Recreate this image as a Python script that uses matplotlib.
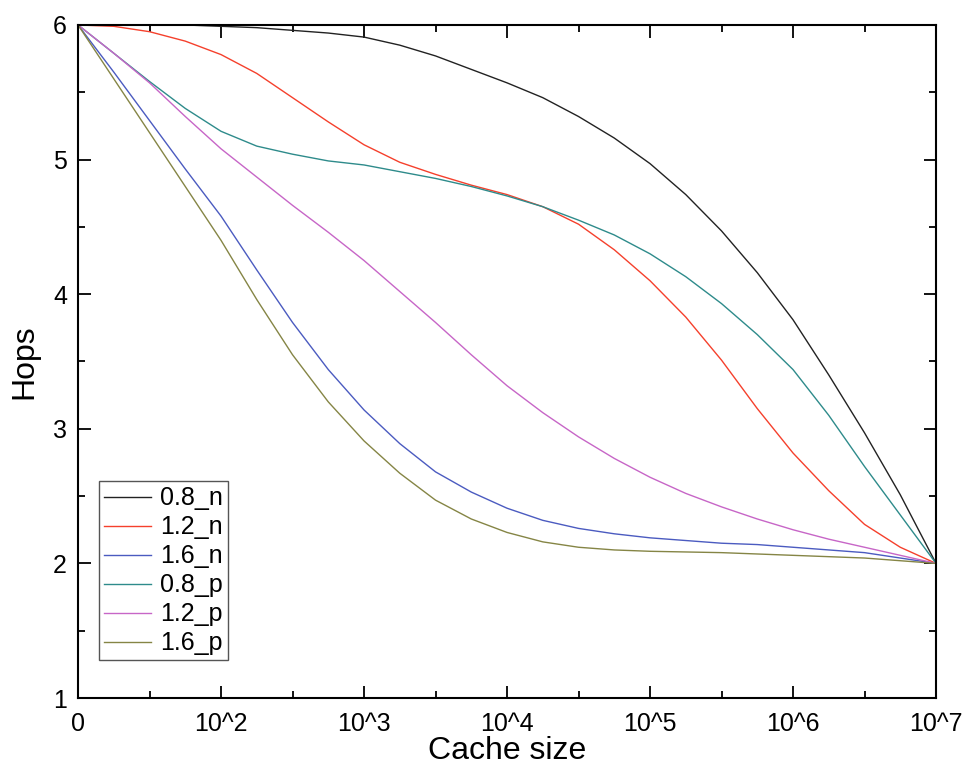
import matplotlib
matplotlib.use("Agg")
import matplotlib.pyplot as plt
from matplotlib.ticker import FixedLocator

# x positions in decades: 1 is labelled "0", 2 is 10^2 ... 7 is 10^7
x = [1.0, 1.25, 1.5, 1.75, 2.0, 2.25, 2.5, 2.75, 3.0, 3.25, 3.5, 3.75, 4.0,
     4.25, 4.5, 4.75, 5.0, 5.25, 5.5, 5.75, 6.0, 6.25, 6.5, 6.75, 7.0]

hops_08_n = [6.00, 6.00, 6.00, 6.00, 5.99, 5.98, 5.96, 5.94, 5.91, 5.85, 5.77, 5.67, 5.57,
             5.46, 5.32, 5.16, 4.97, 4.74, 4.47, 4.16, 3.81, 3.40, 2.97, 2.51, 2.00]
hops_12_n = [6.00, 5.99, 5.95, 5.88, 5.78, 5.64, 5.46, 5.28, 5.11, 4.98, 4.89, 4.81, 4.74,
             4.65, 4.52, 4.33, 4.10, 3.83, 3.51, 3.15, 2.82, 2.54, 2.29, 2.12, 2.00]
hops_16_n = [6.00, 5.65, 5.29, 4.93, 4.58, 4.18, 3.79, 3.44, 3.14, 2.89, 2.68, 2.53, 2.41,
             2.32, 2.26, 2.22, 2.19, 2.17, 2.15, 2.14, 2.12, 2.10, 2.08, 2.04, 2.00]
hops_08_p = [6.00, 5.79, 5.58, 5.38, 5.21, 5.10, 5.04, 4.99, 4.96, 4.91, 4.86, 4.80, 4.73,
             4.65, 4.55, 4.44, 4.30, 4.13, 3.93, 3.70, 3.44, 3.10, 2.72, 2.36, 2.00]
hops_12_p = [6.00, 5.79, 5.57, 5.32, 5.08, 4.87, 4.66, 4.46, 4.25, 4.02, 3.79, 3.55, 3.32,
             3.12, 2.94, 2.78, 2.64, 2.52, 2.42, 2.33, 2.25, 2.18, 2.12, 2.06, 2.00]
hops_16_p = [6.00, 5.60, 5.20, 4.80, 4.40, 3.96, 3.55, 3.20, 2.91, 2.67, 2.47, 2.33, 2.23,
             2.16, 2.12, 2.10, 2.09, 2.085, 2.08, 2.07, 2.06, 2.05, 2.04, 2.02, 2.00]

series = [
    ("0.8_n", hops_08_n, "#222222"),
    ("1.2_n", hops_12_n, "#F5402C"),
    ("1.6_n", hops_16_n, "#4B5BC0"),
    ("0.8_p", hops_08_p, "#2E8B8B"),
    ("1.2_p", hops_12_p, "#C766C7"),
    ("1.6_p", hops_16_p, "#858545"),
]

xticks = [1, 2, 3, 4, 5, 6, 7]
xticklabels = ["0", "10^2", "10^3", "10^4", "10^5", "10^6", "10^7"]
yticks = [1, 2, 3, 4, 5, 6]

plt.rcParams["font.family"] = ["Liberation Sans", "DejaVu Sans"]

fig = plt.figure(figsize=(9.79, 7.73), dpi=100)
ax = fig.add_axes([0.0797, 0.097, 0.8764, 0.8707])

for label, ys, color in series:
    ax.plot(x, ys, color=color, linewidth=1.0, label=label)

ax.set_xlim(1, 7)
ax.set_ylim(1, 6)
ax.set_xticks(xticks)
ax.set_xticklabels(xticklabels)
ax.set_yticks(yticks)
ax.xaxis.set_minor_locator(FixedLocator([1.5, 2.5, 3.5, 4.5, 5.5, 6.5]))
ax.yaxis.set_minor_locator(FixedLocator([1.5, 2.5, 3.5, 4.5, 5.5]))
ax.tick_params(which="both", direction="in", top=True, right=True, width=1.3, labelsize=18)
ax.tick_params(axis="x", pad=10)
ax.tick_params(axis="y", pad=8)
ax.tick_params(which="major", length=9)
ax.tick_params(which="minor", length=5)
for sp in ax.spines.values():
    sp.set_linewidth(1.5)

ax.set_xlabel("Cache size", fontsize=23, labelpad=0)
ax.set_ylabel("Hops", fontsize=23, labelpad=10)

leg = ax.legend(loc="lower left", bbox_to_anchor=(0.024, 0.056), fontsize=18,
                frameon=True, fancybox=False, framealpha=1, edgecolor="#555555",
                handlelength=1.9, handletextpad=0.35, labelspacing=0.2,
                borderpad=0.2, borderaxespad=0.0)
leg.get_frame().set_linewidth(1.0)

fig.savefig("out.png", dpi=100)
